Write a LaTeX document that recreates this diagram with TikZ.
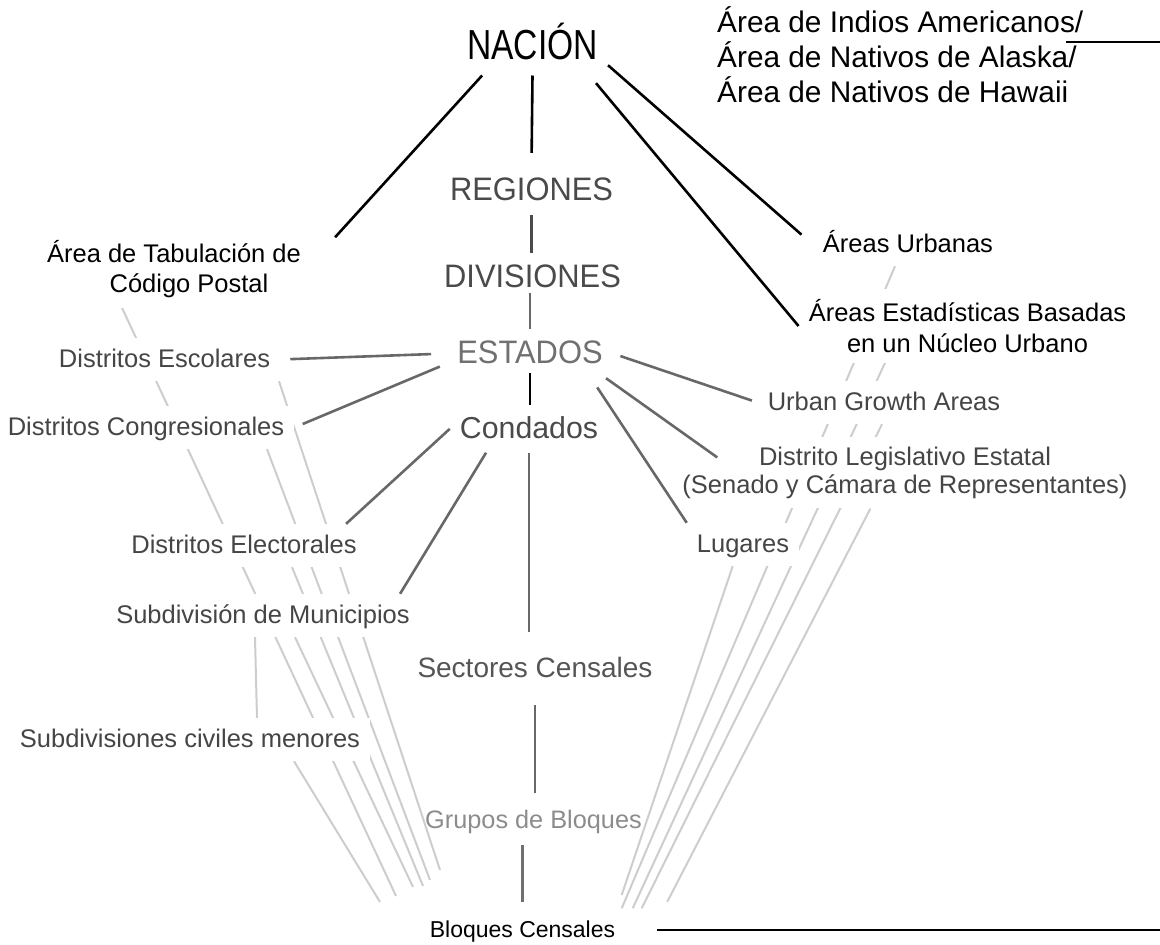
\documentclass[tikz,border=0pt]{standalone}
\usepackage{fontspec}
\setmainfont{Liberation Sans}
\newfontfamily\narrowfont[FakeStretch=0.8]{Liberation Sans}
\newfontfamily\capsfont[FakeStretch=0.95]{Liberation Sans}
\usetikzlibrary{backgrounds}
\definecolor{ink}{HTML}{454545}
\definecolor{capsgray}{HTML}{4A4A4A}
\definecolor{stategray}{HTML}{707070}
\definecolor{censusgray}{HTML}{555555}
\definecolor{groupgray}{HTML}{8C8C8C}
\definecolor{linkgray}{HTML}{686868}
\definecolor{tracegray}{HTML}{CDCDCD}
\tikzset{
    arealines/.style={
           fill=white,
           inner xsep=10pt,
           inner ysep=10pt,
           text=ink,
           font=\fontsize{25.5}{30}\selectfont,
           },
    area/.style={arealines, anchor=base, text height=19pt, text depth=4pt},
    bigarea/.style={area, text=capsgray, font=\capsfont\fontsize{32.5}{38}\selectfont,
           text height=24pt, text depth=5pt},
    toplink/.style={draw=black, line width=2.6pt},
    sublink/.style={draw=linkgray, line width=2.6pt},
    thinlink/.style={draw=tracegray, line width=2pt},
}

\begin{document}
\begin{tikzpicture}[x=1pt, y=-1pt]
\useasboundingbox (0,0) rectangle (1160,945);
\node[area, text=black, font=\narrowfont\fontsize{42}{50}\selectfont, text height=31.5pt, text depth=6.3pt] (nacion) at (532.5,59) {NACIÓN};
\node[bigarea] (regiones) at (531.5,200) {REGIONES};
\node[bigarea] (divisiones) at (532.5,287) {DIVISIONES};
\node[bigarea, text=stategray] (estados) at (530,363) {ESTADOS};
\node[area, text=capsgray, font=\fontsize{30.3}{36}\selectfont, text height=22.7pt, text depth=4.5pt] (condados) at (529,438) {Condados};
\node[area, text=censusgray, font=\fontsize{28}{34}\selectfont, text height=21pt, text depth=4pt] (sectores) at (535,677) {Sectores Censales};
\node[area, fill=none, text=groupgray, font=\fontsize{25.3}{30}\selectfont] (grupos) at (533.5,828) {Grupos de Bloques};
\node[area, text=black, font=\fontsize{23}{28}\selectfont, text height=17.3pt, text depth=3.5pt] (bloques) at (522.5,937) {Bloques Censales};

\node[arealines, text=black, align=center, font=\fontsize{25.5}{29.7}\selectfont] (zcta) at (174,269) {Área de Tabulación de\\\hspace*{30pt}Código Postal};
\node[area] (escolares) at (164.5,367) {Distritos Escolares};
\node[area] (congr) at (146,435) {Distritos Congresionales};
\node[area] (elector) at (244,553) {Distritos Electorales};
\node[area] (munic) at (263,623) {Subdivisión de Municipios};
\node[area] (menores) at (190,747) {Subdivisiones civiles menores};

\node[arealines, text=black, align=left, anchor=west, font=\fontsize{29.8}{35}\selectfont] (aiannh) at (707,54.6) {Área de Indios Americanos/\\Área de Nativos de Alaska/\\Área de Nativos de Hawaii};
\node[area, text=black] (urbanas) at (908,252) {Áreas Urbanas};
\node[arealines, text=black, align=center, font=\fontsize{25.5}{31}\selectfont] (cbsa) at (967.5,326) {Áreas Estadísticas Basadas\\en un Núcleo Urbano};
\node[area] (uga) at (884,410) {Urban Growth Areas};
\node[arealines, align=center, font=\fontsize{25.5}{28}\selectfont] (sld) at (905,472.5) {Distrito Legislativo Estatal\\(Senado y Cámara de Representantes)};
\node[area] (lugares) at (743,552) {Lugares};

\coordinate (rim-a) at (1160,42);
\coordinate (rim-b) at (1160,928);

\path (nacion.210) edge[toplink] ([xshift=24pt,yshift=-7pt]zcta.north east);
\path (nacion.south) edge[toplink, shorten >=13pt] (regiones.north);
\path (nacion.-14) edge[toplink, shorten >=15pt] (urbanas.west);
\path (nacion.-27) edge[toplink, shorten <=10pt] (cbsa.west);
\path (aiannh.north east |- rim-a) edge[toplink, shorten <=-27pt] (rim-a);
\path (regiones.south) edge[sublink, draw=capsgray] (regiones.south |- divisiones.north);
\path (estados.north |- divisiones.south) edge[sublink, shorten <=-9pt] (estados.north);
\path (estados.south) edge[toplink, shorten <=-5pt] (estados.south |- condados.north);
\path (condados.south) edge[sublink, shorten >=14pt] (condados.south |- sectores.north);
\path (sectores.south) edge[sublink, shorten <=14pt, shorten >=6pt] (sectores.south |- grupos.north);
\path (bloques.north |- grupos.south) edge[sublink, draw=groupgray!80!black, shorten <=3pt, shorten >=8pt] (bloques.north);
\path (bloques.east) edge[toplink, shorten <=32pt] (bloques.east -| rim-b);
\path (estados.west) edge[sublink, shorten <=16pt, shorten >=10pt] (escolares.east);
\path ([yshift=-10pt]estados.west) edge[sublink, shorten <=8pt, shorten >=9pt] (congr.east);
\path (condados.west) edge[sublink] (elector.12);
\path (condados.209) edge[sublink] (munic.9);
\path (estados.east) edge[sublink, shorten <=8pt, shorten >=6pt] (uga.west);
\path (estados.-18) edge[sublink] ([xshift=45pt,yshift=-21pt]sld.north west);
\path (estados.338) edge[sublink, shorten <=11pt] (lugares.north west);

\begin{pgfonlayer}{background}
\coordinate (end-zcta) at (396,896);
\coordinate (end-esc) at (440,870);
\coordinate (end-con) at (430,880);
\coordinate (end-ele) at (423,886);
\coordinate (end-mun) at (413,887);
\coordinate (end-men) at (380,902);
\coordinate (end-ua) at (621.7,908.3);
\coordinate (end-cbsa) at (632.7,908.3);
\coordinate (end-uga) at (641.7,908.3);
\coordinate (end-sld) at (667.3,901.7);
\coordinate (end-lug) at (621.7,895);
\path ([xshift=-52pt]zcta.south) edge[thinlink] (end-zcta);
\path ([xshift=114.5pt]escolares.south) edge[thinlink] (end-esc);
\path ([xshift=121pt]congr.south) edge[thinlink] (end-con);
\path ([xshift=48pt]elector.south) edge[thinlink] (end-ele);
\path ([xshift=32pt]munic.south) edge[thinlink] (end-mun);
\path ([xshift=-8pt]munic.south) edge[thinlink] ([xshift=67pt]menores.north);
\path ([xshift=104pt]menores.south) edge[thinlink] (end-men);
\path ([xshift=-13pt]urbanas.south) edge[thinlink] (end-ua);
\path ([xshift=-82.5pt]cbsa.south) edge[thinlink] (end-cbsa);
\path ([xshift=-2pt]uga.south) edge[thinlink] (end-uga);
\path ([xshift=-34.6pt]sld.south) edge[thinlink] (end-sld);
\path ([xshift=-10.3pt]lugares.south) edge[thinlink] (end-lug);
\end{pgfonlayer}
\end{tikzpicture}
\end{document}
